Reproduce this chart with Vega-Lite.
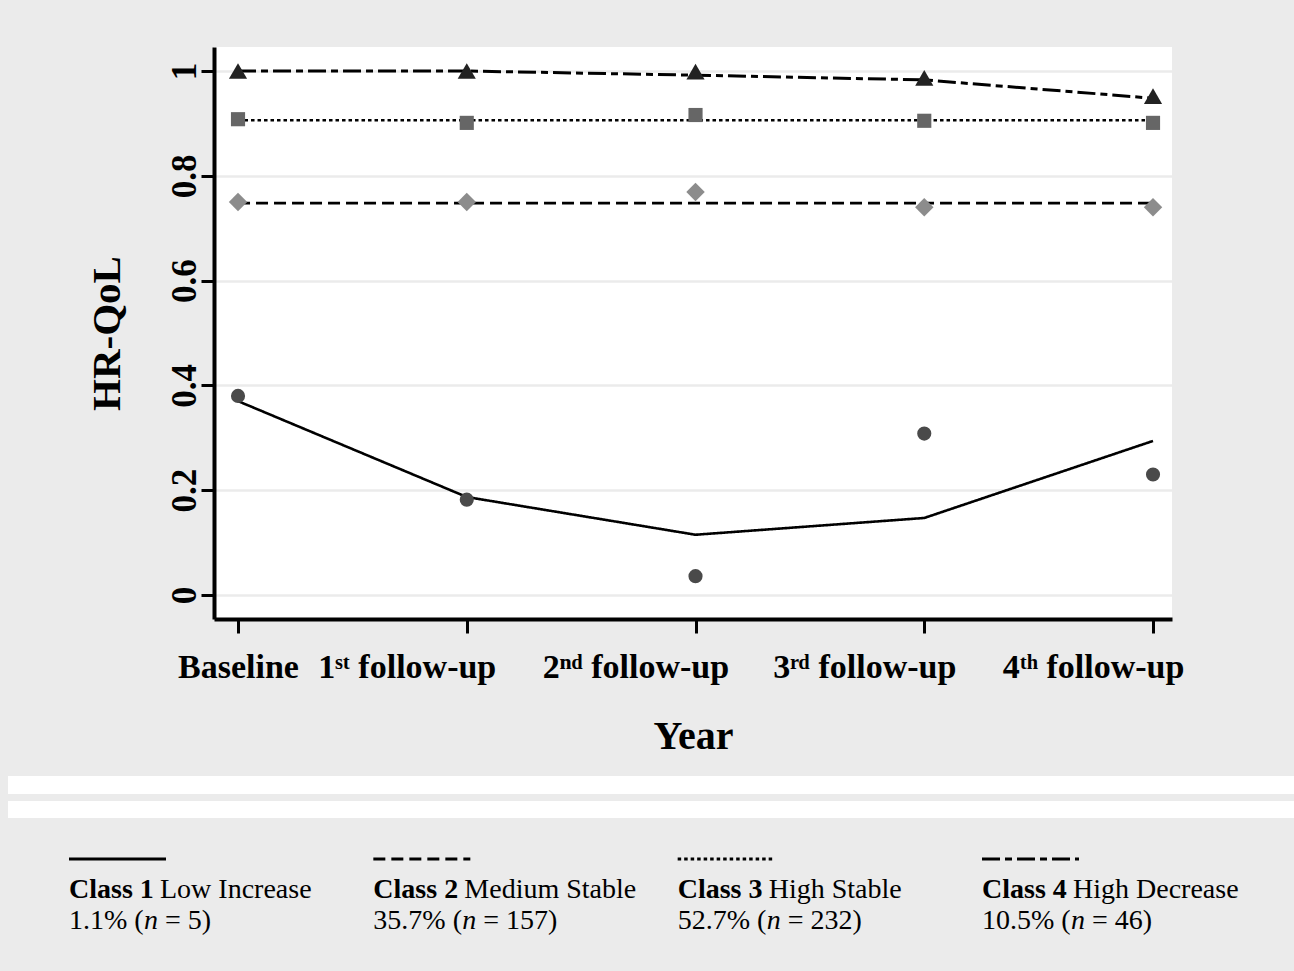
{
  "$schema": "https://vega.github.io/schema/vega-lite/v6.json",
  "background": "#ebebeb",
  "padding": {"left": 8, "top": 47, "right": 0, "bottom": 19},
  "config": {"view": {"stroke": null}, "font": "Liberation Serif", "concat": {"spacing": 0}},
  "datasets": {
    "traj": [
      {"cls": "Class 1", "t": 0, "obs": 0.380, "est": 0.370},
      {"cls": "Class 1", "t": 1, "obs": 0.182, "est": 0.187},
      {"cls": "Class 1", "t": 2, "obs": 0.036, "est": 0.115},
      {"cls": "Class 1", "t": 3, "obs": 0.308, "est": 0.147},
      {"cls": "Class 1", "t": 4, "obs": 0.230, "est": 0.294},
      {"cls": "Class 2", "t": 0, "obs": 0.750, "est": 0.748},
      {"cls": "Class 2", "t": 1, "obs": 0.750, "est": 0.748},
      {"cls": "Class 2", "t": 2, "obs": 0.769, "est": 0.748},
      {"cls": "Class 2", "t": 3, "obs": 0.740, "est": 0.748},
      {"cls": "Class 2", "t": 4, "obs": 0.740, "est": 0.748},
      {"cls": "Class 3", "t": 0, "obs": 0.908, "est": 0.906},
      {"cls": "Class 3", "t": 1, "obs": 0.901, "est": 0.906},
      {"cls": "Class 3", "t": 2, "obs": 0.916, "est": 0.906},
      {"cls": "Class 3", "t": 3, "obs": 0.905, "est": 0.906},
      {"cls": "Class 3", "t": 4, "obs": 0.901, "est": 0.906},
      {"cls": "Class 4", "t": 0, "obs": 1.000, "est": 1.000},
      {"cls": "Class 4", "t": 1, "obs": 1.000, "est": 1.000},
      {"cls": "Class 4", "t": 2, "obs": 0.999, "est": 0.992},
      {"cls": "Class 4", "t": 3, "obs": 0.987, "est": 0.983},
      {"cls": "Class 4", "t": 4, "obs": 0.952, "est": 0.948}
    ],
    "legend": [
      {"cls": "Class 1", "name": "Class 1", "desc": "Low Increase", "pre": "1.1% (", "post": "= 5)"},
      {"cls": "Class 2", "name": "Class 2", "desc": "Medium Stable", "pre": "35.7% (", "post": "= 157)"},
      {"cls": "Class 3", "name": "Class 3", "desc": "High Stable", "pre": "52.7% (", "post": "= 232)"},
      {"cls": "Class 4", "name": "Class 4", "desc": "High Decrease", "pre": "10.5% (", "post": "= 46)"}
    ]
  },
  "vconcat": [
    {
      "spacing": 0,
      "hconcat": [
        {"data": {"values": []}, "mark": {"type": "point", "opacity": 0}, "width": 78, "height": 10},
        {
          "width": 958,
          "height": 572,
          "view": {"fill": "white", "stroke": null},
          "data": {"name": "traj"},
          "encoding": {
            "x": {
              "field": "t", "type": "quantitative",
              "scale": {"domain": [-0.105, 4.083], "nice": false, "zero": false},
              "axis": {
                "values": [0, 1, 2, 3, 4],
                "labelExpr": "['Baseline','1ˢᵗ follow-up','2ⁿᵈ follow-up','3ʳᵈ follow-up','4ᵗʰ follow-up'][datum.value]",
                "grid": false,
                "domainColor": "black", "domainWidth": 4,
                "tickColor": "black", "tickWidth": 3, "tickSize": 14,
                "labelFont": "Liberation Serif", "labelFontWeight": "bold", "labelFontSize": 34, "labelColor": "black",
                "labelPadding": 17, "labelAngle": 0, "labelOverlap": false, "labelFlush": false, "labelLimit": 0,
                "labelOffset": {"condition": {"test": "datum.value > 0", "value": -60}, "value": 0},
                "title": "Year", "titleFont": "Liberation Serif", "titleFontWeight": "bold", "titleFontSize": 40,
                "titleColor": "black", "titlePadding": 32
              }
            }
          },
          "layer": [
            {
              "mark": {"type": "line", "color": "black"},
              "encoding": {
                "y": {
                  "field": "est", "type": "quantitative",
                  "scale": {"domain": [-0.0458, 1.0458], "nice": false, "zero": false},
                  "axis": {
                    "values": [0, 0.2, 0.4, 0.6, 0.8, 1],
                    "format": ".1~f",
                    "grid": true, "gridColor": "#ebebeb", "gridWidth": 2.5,
                    "domainColor": "black", "domainWidth": 4,
                    "tickColor": "black", "tickWidth": 3, "tickSize": 13,
                    "labelFont": "Liberation Serif", "labelFontWeight": "bold", "labelFontSize": 35, "labelColor": "black",
                    "labelAngle": 270, "labelAlign": "center", "labelBaseline": "alphabetic", "labelPadding": 6,
                    "labelFlush": false, "labelOverlap": false,
                    "title": "HR-QoL", "titleFont": "Liberation Serif", "titleFontWeight": "bold", "titleFontSize": 41,
                    "titleColor": "black", "titlePadding": 39
                  }
                },
                "detail": {"field": "cls"},
                "strokeDash": {
                  "field": "cls", "type": "nominal",
                  "scale": {"domain": ["Class 1", "Class 2", "Class 3", "Class 4"], "range": [[1, 0], [12, 6], [3.5, 3], [18, 5, 7, 5]]},
                  "legend": null
                },
                "strokeWidth": {
                  "field": "cls", "type": "nominal",
                  "scale": {"type": "ordinal", "domain": ["Class 1", "Class 2", "Class 3", "Class 4"], "range": [2.6, 2.8, 2.5, 3]},
                  "legend": null
                }
              }
            },
            {
              "mark": {"type": "point", "filled": true, "opacity": 1},
              "encoding": {
                "y": {"field": "obs", "type": "quantitative"},
                "shape": {
                  "field": "cls", "type": "nominal",
                  "scale": {"domain": ["Class 1", "Class 2", "Class 3", "Class 4"], "range": ["circle", "diamond", "square", "triangle-up"]},
                  "legend": null
                },
                "color": {
                  "field": "cls", "type": "nominal",
                  "scale": {"domain": ["Class 1", "Class 2", "Class 3", "Class 4"], "range": ["#4a4a4a", "#8c8c8c", "#666666", "#222222"]},
                  "legend": null
                },
                "size": {
                  "field": "cls", "type": "nominal",
                  "scale": {"type": "ordinal", "domain": ["Class 1", "Class 2", "Class 3", "Class 4"], "range": [200, 340, 200, 330]},
                  "legend": null
                }
              }
            }
          ]
        }
      ]
    },
    {"data": {"values": []}, "mark": {"type": "point", "opacity": 0}, "width": 1286, "height": 20},
    {"data": {"values": []}, "mark": {"type": "point", "opacity": 0}, "width": 1286, "height": 18, "view": {"fill": "white", "stroke": null}},
    {"data": {"values": []}, "mark": {"type": "point", "opacity": 0}, "width": 1286, "height": 7},
    {"data": {"values": []}, "mark": {"type": "point", "opacity": 0}, "width": 1286, "height": 17, "view": {"fill": "white", "stroke": null}},
    {"data": {"values": []}, "mark": {"type": "point", "opacity": 0}, "width": 1286, "height": 10},
    {
      "spacing": 0,
      "hconcat": [
        {"data": {"values": []}, "mark": {"type": "point", "opacity": 0}, "width": 59, "height": 10},
        {
          "width": 913,
          "height": 124,
          "data": {"name": "legend"},
          "encoding": {
            "x": {"field": "cls", "type": "nominal", "scale": {"type": "point", "padding": 0, "domain": ["Class 1", "Class 2", "Class 3", "Class 4"]}, "axis": null}
          },
          "layer": [
            {
              "mark": {"type": "rule", "color": "black", "strokeWidth": 3, "x2Offset": 97},
              "encoding": {
                "x2": {"field": "cls"},
                "y": {"datum": "line", "type": "nominal", "scale": {"type": "point", "domain": ["line", "title", "n"], "padding": 1}, "axis": null},
                "strokeDash": {
                  "field": "cls", "type": "nominal",
                  "scale": {"domain": ["Class 1", "Class 2", "Class 3", "Class 4"], "range": [[1, 0], [11, 5], [3.5, 3.5], [16, 5, 7, 5]]},
                  "legend": null
                }
              }
            },
            {
              "mark": {"type": "text", "align": "left", "baseline": "middle", "font": "Liberation Serif", "fontSize": 28, "fontWeight": "bold", "color": "black"},
              "encoding": {
                "y": {"datum": "title", "type": "nominal"},
                "text": {"field": "name"}
              }
            },
            {
              "mark": {"type": "text", "align": "left", "baseline": "middle", "font": "Liberation Serif", "fontSize": 28, "color": "black", "dx": 91},
              "encoding": {
                "y": {"datum": "title", "type": "nominal"},
                "text": {"field": "desc"}
              }
            },
            {
              "mark": {"type": "text", "align": "left", "baseline": "middle", "font": "Liberation Serif", "fontSize": 28, "color": "black"},
              "encoding": {
                "y": {"datum": "n", "type": "nominal"},
                "text": {"field": "pre"}
              }
            },
            {
              "mark": {"type": "text", "align": "left", "baseline": "middle", "font": "Liberation Serif", "fontSize": 28, "fontStyle": "italic", "color": "black", "dx": {"expr": "14 * length(datum.pre) - 9"}},
              "encoding": {
                "y": {"datum": "n", "type": "nominal"},
                "text": {"value": "n"}
              }
            },
            {
              "mark": {"type": "text", "align": "left", "baseline": "middle", "font": "Liberation Serif", "fontSize": 28, "color": "black", "dx": {"expr": "14 * length(datum.pre) + 12"}},
              "encoding": {
                "y": {"datum": "n", "type": "nominal"},
                "text": {"field": "post"}
              }
            }
          ]
        }
      ]
    }
  ]
}
